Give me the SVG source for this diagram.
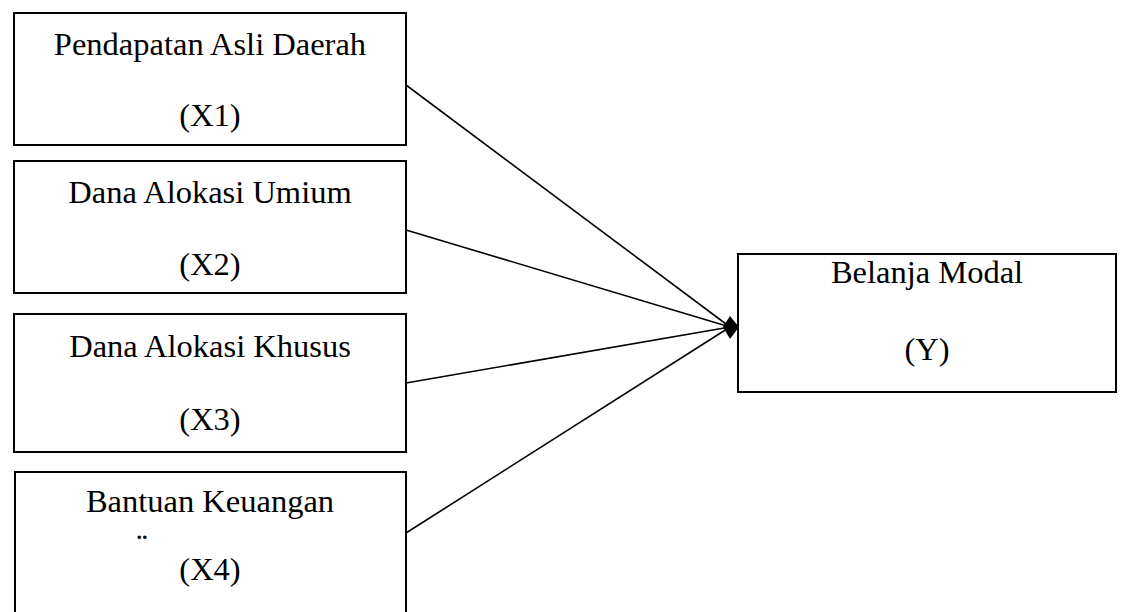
<svg xmlns="http://www.w3.org/2000/svg" width="1122" height="612" viewBox="0 0 1122 612">
<style>
.box{fill:#fff;stroke:#000;stroke-width:2}
.t{font-family:"Liberation Serif","Times New Roman",serif;font-size:32.5px;fill:#000;text-anchor:middle}
.c{stroke:#000;stroke-width:1.6;fill:none}
</style>
<rect width="1122" height="612" fill="#fff"/>
<g id="x1">
<rect class="box" x="14" y="13" width="392" height="132"/>
<text class="t" x="210" y="55">Pendapatan Asli Daerah</text>
<text class="t" x="210" y="126">(X1)</text>
</g>
<g id="x2">
<rect class="box" x="14" y="161" width="392" height="132"/>
<text class="t" x="210" y="203">Dana Alokasi Umium</text>
<text class="t" x="210" y="275">(X2)</text>
</g>
<g id="x3">
<rect class="box" x="14" y="314" width="392" height="138"/>
<text class="t" x="210" y="357">Dana Alokasi Khusus</text>
<text class="t" x="210" y="430">(X3)</text>
</g>
<g id="x4">
<rect class="box" x="15" y="472" width="391" height="150"/>
<text class="t" x="210" y="512">Bantuan Keuangan</text>
<text class="t" x="142" y="539" style="font-size:22px;font-weight:bold">..</text>
<text class="t" x="210" y="580">(X4)</text>
</g>
<g id="y">
<rect class="box" x="738" y="254" width="378" height="138"/>
<text class="t" x="927" y="283">Belanja Modal</text>
<text class="t" x="927" y="360">(Y)</text>
</g>
<g id="connectors">
<line class="c" x1="406" y1="85" x2="730" y2="327"/>
<line class="c" x1="406" y1="230" x2="730" y2="327"/>
<line class="c" x1="406" y1="383" x2="730" y2="327"/>
<line class="c" x1="406" y1="533" x2="730" y2="327"/>
<polygon points="739,327 730,316 723,327 730,339" fill="#000"/>
</g>
</svg>
